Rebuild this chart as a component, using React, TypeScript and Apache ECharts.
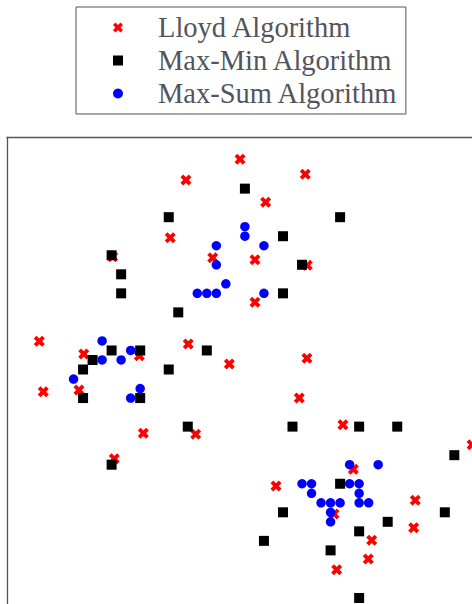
import React, { useEffect, useRef } from "react";
import * as echarts from "echarts";

// Cluster centres found by each algorithm, [x, y] in data units.
const lloydCenters: number[][] = [
  [24.49, 47.08], [18.81, 44.91], [31.34, 45.5], [27.18, 42.56], [17.16, 38.84],
  [21.62, 36.74], [26.06, 36.53], [31.55, 35.95], [11.11, 36.85], [26.06, 32.06],
  [3.4, 27.96], [19.05, 27.68], [13.91, 26.45], [8.07, 26.63], [23.36, 25.58],
  [31.52, 26.18], [3.82, 22.67], [7.57, 22.85], [30.71, 22.01], [14.33, 18.3],
  [19.83, 18.19], [35.3, 19.2], [48.86, 17.1], [11.28, 15.63], [36.39, 14.52],
  [28.27, 12.76], [42.9, 11.26], [34.36, 9.82], [42.73, 8.38], [38.32, 7.06],
  [37.96, 5.09], [34.64, 3.97],
];

const maxMinCenters: number[][] = [
  [25, 44], [17, 41], [35, 41], [29, 39], [11, 37], [31, 36], [12, 35], [12, 33],
  [29, 33], [18, 31], [11, 27], [14, 27], [21, 27], [9, 26], [8, 25], [17, 25],
  [8, 22], [14, 22], [19, 19], [30, 19], [37, 19], [41, 19], [47, 16], [11, 15],
  [35, 13], [29, 10], [46, 10], [40, 9], [37, 8], [27, 7], [34, 6], [37, 1],
];

const maxSumCenters: number[][] = [
  [22, 38], [25, 40], [25, 39], [27, 38], [22, 36], [23, 34], [20, 33], [21, 33],
  [22, 33], [27, 33], [10, 28], [13, 27], [10, 26], [12, 26], [7, 24], [14, 23],
  [13, 22], [36, 15], [39, 15], [31, 13], [32, 13], [36, 13], [37, 13], [32, 12],
  [37, 12], [33, 11], [34, 11], [35, 11], [37, 11], [38, 11], [34, 10], [34, 9],
];

const seriesNames = ["Lloyd Algorithm", "Max-Min Algorithm", "Max-Sum Algorithm"];

// Visible data window of the axes
const xRange = [0, 48.855];
const yRange = [0.368, 49.37];

// Thick filled "X" marker and a square that keeps its aspect in the legend
const crossSymbol = "path://M6 0L8 2L6 4L8 6L6 8L4 6L2 8L0 6L2 4L0 2L2 0L4 2Z";
const squareSymbol = "path://M0 0L10 0L10 10L0 10Z";

export default function App() {
  const ref = useRef<HTMLDivElement>(null);

  useEffect(() => {
    if (!ref.current) return;
    const chart = echarts.init(ref.current, undefined, { renderer: "svg" });
    const serif = "Liberation Serif";
    chart.setOption({
      animation: false,
      backgroundColor: "#ffffff",
      textStyle: { fontFamily: serif },
      grid: { left: 6.9, top: 137.5, right: 0, bottom: 0, containLabel: false },
      legend: {
        orient: "vertical",
        left: 76,
        top: 7,
        padding: [6, 8, 6, 37],
        itemWidth: 70,
        itemHeight: 10,
        itemGap: 4,
        borderColor: "#555555",
        borderWidth: 1,
        borderRadius: 0,
        data: seriesNames,
        textStyle: { fontFamily: serif, fontSize: 28.5 },
      },
      xAxis: {
        type: "value",
        position: "top",
        min: xRange[0],
        max: xRange[1],
        axisLine: { show: true, lineStyle: { color: "#555555", width: 1.3 } },
        axisTick: { show: false },
        axisLabel: { show: false },
        splitLine: { show: false },
      },
      yAxis: {
        type: "value",
        position: "left",
        min: yRange[0],
        max: yRange[1],
        axisLine: { show: true, lineStyle: { color: "#555555", width: 1.3 } },
        axisTick: { show: false },
        axisLabel: { show: false },
        splitLine: { show: false },
      },
      series: [
        {
          name: seriesNames[0],
          type: "scatter",
          clip: false,
          symbol: crossSymbol,
          symbolSize: 11,
          itemStyle: { color: "#ff0000", opacity: 1 },
          data: lloydCenters,
        },
        {
          name: seriesNames[1],
          type: "scatter",
          clip: false,
          symbol: squareSymbol,
          symbolSize: 10,
          itemStyle: { color: "#000000", opacity: 1 },
          data: maxMinCenters,
        },
        {
          name: seriesNames[2],
          type: "scatter",
          clip: false,
          symbol: "circle",
          symbolSize: 9.5,
          itemStyle: { color: "#0000ff", opacity: 1 },
          data: maxSumCenters,
        },
      ],
    });
    return () => chart.dispose();
  }, []);

  return (
    <div
      ref={ref}
      style={{ position: "absolute", left: 0, top: 0, width: 472, height: 604 }}
    />
  );
}
